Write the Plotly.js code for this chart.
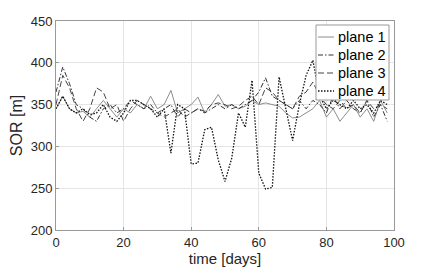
<!DOCTYPE html>
<html>
<head>
<meta charset="utf-8">
<script src="https://cdn.plot.ly/plotly-3.0.1.min.js"></script>
<style>html,body{margin:0;padding:0;background:#fff;}#chart{width:436px;height:273px;}</style>
</head>
<body>
<div id="chart"></div>
<script>
const days = [0,2,4,6,8,10,12,14,16,18,20,22,24,26,28,30,32,34,36,38,40,42,44,46,48,50,52,54,56,58,60,62,64,66,68,70,72,74,76,78,80,82,84,86,88,90,92,94,96,98];
const plane1 = [345,360,345,340,342,335,345,355,345,335,345,340,350,345,360,345,350,367,340,345,350,359,340,350,362,348,350,345,348,355,350,352,350,348,340,334,335,340,345,355,335,345,330,340,350,335,345,330,355,340];
const plane2 = [365,395,375,350,345,335,330,345,350,340,345,355,350,345,350,340,345,350,335,345,340,345,340,345,350,345,350,345,350,355,365,382,360,355,350,345,355,345,355,350,340,360,345,355,345,340,355,335,350,330];
const plane3 = [350,385,370,345,330,345,370,365,345,350,330,345,355,350,345,340,335,340,345,335,340,345,342,350,352,350,345,348,355,360,350,370,365,355,350,345,360,365,377,360,350,345,355,345,350,340,355,345,350,345];
const plane4 = [345,360,345,340,345,338,340,350,335,330,340,355,355,350,345,335,345,292,350,345,279,280,320,323,284,258,286,340,323,379,268,249,251,383,345,307,350,385,403,360,345,355,350,345,355,345,350,340,355,350];
const names = ['plane 1','plane 2','plane 3','plane 4'];
const yTicks = [200,250,300,350,400,450];
const xTicks = [0,20,40,60,80,100];

const series = [plane1, plane2, plane3, plane4];
const styles = [
  {color:'#808080', dash:'solid', width:0.9},
  {color:'#333333', dash:'5px,2px,1.5px,2px', width:1},
  {color:'#444444', dash:'6px,3px', width:1},
  {color:'#111111', dash:'1.5px,1.5px', width:1.3}
];
const traces = series.map((s,i)=>({
  x: days, y: s, type:'scatter', mode:'lines', name: names[i],
  line: styles[i], showlegend:false
}));

// hand-drawn legend box (paper coordinates)
const plotW = 338, plotH = 209;
const px2x = p => (p - 56) / plotW;
const py2y = p => 1 - (p - 21) / plotH;
const shapes = [{
  type:'rect', xref:'paper', yref:'paper',
  x0:px2x(316), x1:px2x(389), y0:py2y(100), y1:py2y(25),
  fillcolor:'#fff', line:{color:'#999', width:1}, layer:'above'
}];
const annotations = [];
names.forEach((n,i)=>{
  const cy = py2y(37 + 18 * i);
  shapes.push({type:'line', xref:'paper', yref:'paper', x0:px2x(318), x1:px2x(334), y0:cy, y1:cy,
    line:{color:styles[i].color, dash:styles[i].dash, width:styles[i].width}, layer:'above'});
  annotations.push({xref:'paper', yref:'paper', x:px2x(336), y:cy, xanchor:'left', yanchor:'middle',
    text:n, showarrow:false, font:{size:14.5, family:'Liberation Sans, Arial, sans-serif', color:'#000'}});
});

const font = {family:'Liberation Sans, Arial, sans-serif', color:'#262626'};
const layout = {
  width:436, height:273,
  margin:{l:56, r:42, t:21, b:43},
  paper_bgcolor:'#fff', plot_bgcolor:'#fff',
  font: Object.assign({size:13}, font),
  showlegend:false,
  shapes: shapes, annotations: annotations,
  xaxis:{range:[0,100], tickvals:xTicks, ticktext:xTicks.map(String),
    showgrid:true, gridcolor:'#e5e5e5', zeroline:false,
    showline:true, linecolor:'#999', mirror:true, ticks:'inside', ticklen:3, tickcolor:'#999',
    tickfont:{size:13, family:font.family, color:'#262626'},
    title:{text:'time [days]', font:{size:15, family:font.family, color:'#262626'}, standoff:4}},
  yaxis:{range:[200,450], tickvals:yTicks, ticktext:yTicks.map(String),
    showgrid:true, gridcolor:'#e5e5e5', zeroline:false,
    showline:true, linecolor:'#999', mirror:true, ticks:'inside', ticklen:3, tickcolor:'#999',
    tickfont:{size:13, family:font.family, color:'#262626'},
    title:{text:'SOR [m]', font:{size:16, family:font.family, color:'#262626'}, standoff:4}}
};
Plotly.newPlot('chart', traces, layout, {displayModeBar:false, staticPlot:true});
</script>
</body>
</html>
